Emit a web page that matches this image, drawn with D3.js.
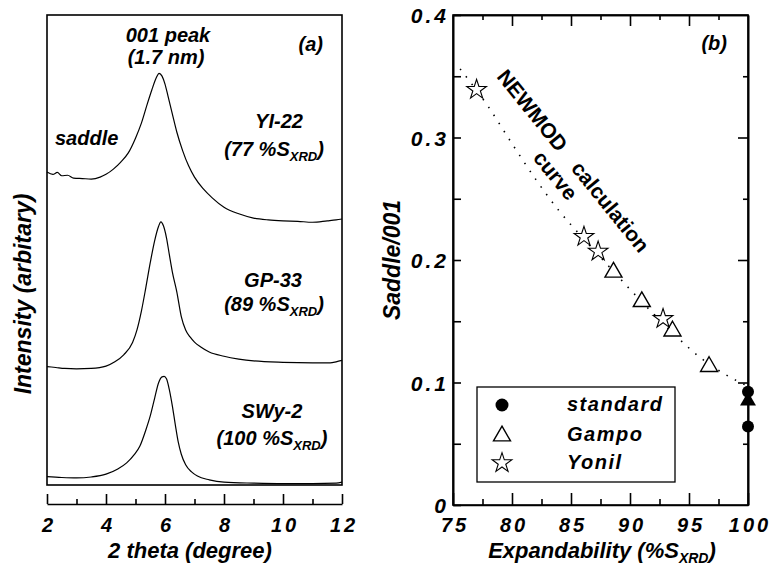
<!DOCTYPE html>
<html>
<head>
<meta charset="utf-8">
<script src="https://cdn.jsdelivr.net/npm/d3@7"></script>
<style>
  body { margin: 0; background: #fff; }
  text { font-family: "Liberation Sans", Arial, sans-serif; font-weight: bold; fill: #000; }
  .it { font-style: italic; }
</style>
</head>
<body>
<div id="chart"></div>
<script>
// ---- data, panel (a): [2theta, intensity] ----
const yi22 = [[2.0,66.6],[2.2,66.1],[2.35,66.5],[2.5,65.8],[2.7,65.9],[2.9,65.3],[3.2,65.2],[3.5,65.1],[3.8,65.5],[4.0,66.1],
  [4.25,67.2],[4.5,68.7],[4.75,70.6],[5.0,73.8],[5.2,77.0],[5.4,81.1],[5.55,84.0],[5.7,86.6],[5.8,87.6],[5.9,87.0],
  [6.0,85.3],[6.1,82.8],[6.25,78.9],[6.4,75.1],[6.6,71.1],[6.8,67.9],[7.0,65.5],[7.3,63.0],[7.6,61.1],[8.0,59.1],
  [8.5,57.7],[9.0,56.8],[9.5,56.4],[10.0,56.2],[10.5,56.1],[11.0,55.9],[11.5,56.2],[11.8,56.4],[12.0,56.6]]
const gp33 = [[2.0,25.2],[2.3,25.0],[2.6,24.8],[3.0,24.7],[3.5,24.8],[4.0,25.3],[4.3,26.2],[4.6,27.7],[4.9,30.3],
  [5.05,33.0],[5.2,37.0],[5.35,42.0],[5.5,47.3],[5.65,52.0],[5.78,55.0],[5.86,56.0],[5.95,55.1],[6.05,52.6],
  [6.15,48.9],[6.25,45.3],[6.4,41.1],[6.55,35.9],[6.7,33.0],[6.85,31.5],[7.0,30.4],[7.2,29.4],[7.5,28.3],
  [8.0,27.4],[8.5,26.8],[9.0,26.4],[10.0,26.1],[11.0,26.0],[11.6,26.0],[11.8,26.2],[12.0,26.5]]
const swy2 = [[2.0,1.8],[2.5,1.6],[3.0,1.5],[3.5,1.7],[4.0,2.3],[4.4,3.4],[4.7,4.7],[4.95,6.4],[5.15,8.3],
  [5.35,11.7],[5.5,14.7],[5.65,18.5],[5.78,21.7],[5.9,23.0],[5.97,23.1],[6.05,22.6],[6.15,20.2],[6.25,16.8],
  [6.35,12.8],[6.45,9.1],[6.55,6.6],[6.7,4.3],[6.9,2.8],[7.1,1.9],[7.5,1.1],[8.0,0.6],[9.0,0.4],[10.0,0.3],
  [11.0,0.3],[11.8,0.4],[12.0,0.6]]
const ticksTheta = [2, 4, 6, 8, 10, 12]
const minorTheta = [3, 5, 7, 9, 11]

// ---- data, panel (b): [expandability, saddle/001] ----
const standard = [[100, 0.0925], [100, 0.064]]
const standardTri = [[100, 0.085]]
const gampo = [[88.6, 0.190], [91.0, 0.166], [93.6, 0.142], [96.7, 0.113]]
const yonil = [[77.0, 0.339], [86.1, 0.219], [87.3, 0.207], [92.8, 0.152]]
const newmod = [[75.6,0.356],[78,0.325],[80,0.295],[82,0.266],[84,0.240],[86,0.218],[88,0.197],
  [90,0.176],[92,0.156],[94,0.137],[96,0.120],[98,0.107],[100,0.097]]
const ticksExp = [75, 80, 85, 90, 95, 100]
const minorExp = [77.5, 82.5, 87.5, 92.5, 97.5]
const ticksRatio = [0, 0.1, 0.2, 0.3, 0.4]
const minorRatio = [0.05, 0.15, 0.25, 0.35]

const W = 772, H = 568

const svg = d3.select("#chart").append("svg").attr("width", W).attr("height", H)
svg.append("rect").attr("width", W).attr("height", H).attr("fill", "#fff")

// ================= panel (a) =================
const xa = d3.scaleLinear().domain([2, 12]).range([47, 342])
const ya = d3.scaleLinear().domain([0, 100]).range([485, 15])

const pa = svg.append("g")
pa.append("rect").attr("x", 47).attr("y", 15).attr("width", 295).attr("height", 470)
  .attr("fill", "none").attr("stroke", "#000").attr("stroke-width", 1.6)

const linea = d3.line().x(d => xa(d[0])).y(d => ya(d[1])).curve(d3.curveMonotoneX)
;[yi22, gp33, swy2].forEach(s => {
  pa.append("path").datum(s).attr("d", linea)
    .attr("fill", "none").attr("stroke", "#000").attr("stroke-width", 1.2)
})

// detached x axis with upward ticks
const ejeA = pa.append("g").attr("transform", "translate(0,504)")
  .call(d3.axisBottom(xa).tickValues(ticksTheta).tickSizeInner(-10).tickSizeOuter(0).tickPadding(14))
ejeA.append("g").call(d3.axisBottom(xa).tickValues(minorTheta).tickSizeInner(-5).tickSizeOuter(0).tickFormat(""))
  .select(".domain").remove()

function estiloEje(g) {
  g.selectAll(".domain").attr("stroke", "#000").attr("stroke-width", 1.6)
  g.selectAll(".tick line").attr("stroke", "#000").attr("stroke-width", 1.6)
  g.selectAll(".tick text").attr("class", "it").style("font-size", "20px")
    .style("letter-spacing", "3px").attr("fill", "#000")
}
estiloEje(ejeA)
ejeA.selectAll(".tick text").attr("dx", "1.5px")

pa.append("text").attr("class", "it").attr("x", 190).attr("y", 558).attr("text-anchor", "middle")
  .style("font-size", "22px").text("2 theta (degree)")
pa.append("text").attr("class", "it").attr("transform", "translate(31,294) rotate(-90)")
  .attr("text-anchor", "middle").style("font-size", "23px").text("Intensity (arbitary)")

function etiqueta(g, x, y, txt, anchor) {
  return g.append("text").attr("class", "it").attr("x", x).attr("y", y)
    .attr("text-anchor", anchor || "middle").style("font-size", "20px").text(txt)
}
function etiquetaXRD(g, x, y, pre) {
  const t = g.append("text").attr("class", "it").attr("x", x).attr("y", y)
    .attr("text-anchor", "middle").style("font-size", "20px")
  t.append("tspan").text(pre + " %S")
  t.append("tspan").attr("dy", 5).style("font-size", "13px").text("XRD")
  t.append("tspan").attr("dy", -5).text(")")
}
etiqueta(pa, 168, 42, "001 peak")
etiqueta(pa, 166, 64, "(1.7 nm)")
etiqueta(pa, 323, 51, "(a)", "end")
etiqueta(pa, 55, 145, "saddle", "start")
etiqueta(pa, 279, 128, "YI-22")
etiquetaXRD(pa, 274, 156, "(77")
etiqueta(pa, 273, 287, "GP-33")
etiquetaXRD(pa, 274, 311, "(89")
etiqueta(pa, 272, 418, "SWy-2")
etiquetaXRD(pa, 272, 445, "(100")

// ================= panel (b) =================
const xb = d3.scaleLinear().domain([75, 100]).range([453, 748])
const yb = d3.scaleLinear().domain([0, 0.4]).range([505, 15])

const pb = svg.append("g")
pb.append("rect").attr("x", 453).attr("y", 15).attr("width", 295).attr("height", 490)
  .attr("fill", "none").attr("stroke", "#000").attr("stroke-width", 1.6)

const fmt = d => d === 0 ? "0" : d.toFixed(1)
const ejeXb = pb.append("g").attr("transform", "translate(0,505)")
  .call(d3.axisBottom(xb).tickValues(ticksExp).tickSizeInner(-12).tickSizeOuter(0).tickPadding(13))
ejeXb.append("g").call(d3.axisBottom(xb).tickValues(minorExp).tickSizeInner(-6).tickSizeOuter(0).tickFormat(""))
  .select(".domain").remove()
estiloEje(ejeXb)
ejeXb.selectAll(".tick text").attr("dx", "1.5px")

const ejeTop = pb.append("g").attr("transform", "translate(0,15)")
  .call(d3.axisTop(xb).tickValues(ticksExp.slice(1, -1)).tickSizeInner(-11).tickSizeOuter(0).tickFormat(""))
ejeTop.append("g").call(d3.axisTop(xb).tickValues(minorExp).tickSizeInner(-5).tickSizeOuter(0).tickFormat(""))
estiloEje(ejeTop)

const ejeYb = pb.append("g").attr("transform", "translate(453,0)")
  .call(d3.axisLeft(yb).tickValues(ticksRatio).tickSizeInner(-8).tickSizeOuter(0).tickPadding(4).tickFormat(fmt))
ejeYb.append("g").call(d3.axisLeft(yb).tickValues(minorRatio).tickSizeInner(-8).tickSizeOuter(0).tickFormat(""))
estiloEje(ejeYb)
ejeYb.selectAll(".tick text").attr("dy", "0.36em").style("font-size", "21px")

const ejeYr = pb.append("g").attr("transform", "translate(748,0)")
  .call(d3.axisRight(yb).tickValues(ticksRatio.slice(1, -1)).tickSizeInner(-10).tickSizeOuter(0).tickFormat(""))
ejeYr.append("g").call(d3.axisRight(yb).tickValues(minorRatio).tickSizeInner(-5).tickSizeOuter(0).tickFormat(""))
estiloEje(ejeYr)

pb.append("text").attr("class", "it").attr("x", 602).attr("y", 558).attr("text-anchor", "middle")
  .style("font-size", "22px")
  .call(t => {
    t.append("tspan").text("Expandability (%S")
    t.append("tspan").attr("dy", 5).style("font-size", "14px").text("XRD")
    t.append("tspan").attr("dy", -5).text(")")
  })
pb.append("text").attr("class", "it").attr("transform", "translate(400,260) rotate(-90)")
  .attr("text-anchor", "middle").style("font-size", "23px").text("Saddle/001")
etiqueta(pb, 727, 50, "(b)", "end")

// NEWMOD curve
pb.append("path").datum(newmod)
  .attr("d", d3.line().x(d => xb(d[0])).y(d => yb(d[1])).curve(d3.curveMonotoneX))
  .attr("fill", "none").attr("stroke", "#000").attr("stroke-width", 1.6)
  .attr("stroke-dasharray", "1.5,8")

const rot = pb.append("g").attr("transform", "translate(496,77) rotate(51)")
  .style("font-size", "21px")
rot.append("text").attr("x", 0).attr("y", 0).text("NEWMOD")
rot.append("text").attr("x", 118).attr("y", 0).text("calculation")
rot.append("text").attr("x", 86).attr("y", 23).text("curve")

// markers
const simbolo = (tipo, size) => d3.symbol().type(tipo).size(size)
pb.selectAll(".gampo").data(gampo).enter().append("path")
  .attr("transform", d => `translate(${xb(d[0])},${yb(d[1])})`)
  .attr("d", simbolo(d3.symbolTriangle, 125)).attr("fill", "#fff").attr("stroke", "#000").attr("stroke-width", 1.4)
pb.selectAll(".yonil").data(yonil).enter().append("path")
  .attr("transform", d => `translate(${xb(d[0])},${yb(d[1])})`)
  .attr("d", simbolo(d3.symbolStar, 120)).attr("fill", "#fff").attr("stroke", "#000").attr("stroke-width", 1.1)
pb.selectAll(".stdtri").data(standardTri).enter().append("path")
  .attr("transform", d => `translate(${xb(d[0])},${yb(d[1])})`)
  .attr("d", simbolo(d3.symbolTriangle, 110)).attr("fill", "#000")
pb.selectAll(".std").data(standard).enter().append("circle")
  .attr("cx", d => xb(d[0])).attr("cy", d => yb(d[1])).attr("r", 6).attr("fill", "#000")

// legend
const ley = pb.append("g")
ley.append("rect").attr("x", 477).attr("y", 387).attr("width", 198).attr("height", 95)
  .attr("fill", "#fff").attr("stroke", "#000").attr("stroke-width", 1.3)
ley.append("circle").attr("cx", 502).attr("cy", 405).attr("r", 6.5).attr("fill", "#000")
ley.append("path").attr("transform", "translate(502,436)").attr("d", simbolo(d3.symbolTriangle, 125))
  .attr("fill", "#fff").attr("stroke", "#000").attr("stroke-width", 1.4)
ley.append("path").attr("transform", "translate(502,463)").attr("d", simbolo(d3.symbolStar, 120))
  .attr("fill", "#fff").attr("stroke", "#000").attr("stroke-width", 1.1)
;[["standard", 411], ["Gampo", 441], ["Yonil", 469]].forEach(([t, y]) => {
  ley.append("text").attr("class", "it").attr("x", 567).attr("y", y)
    .style("font-size", "20px").style("letter-spacing", "1.5px").text(t)
})
</script>
</body>
</html>
